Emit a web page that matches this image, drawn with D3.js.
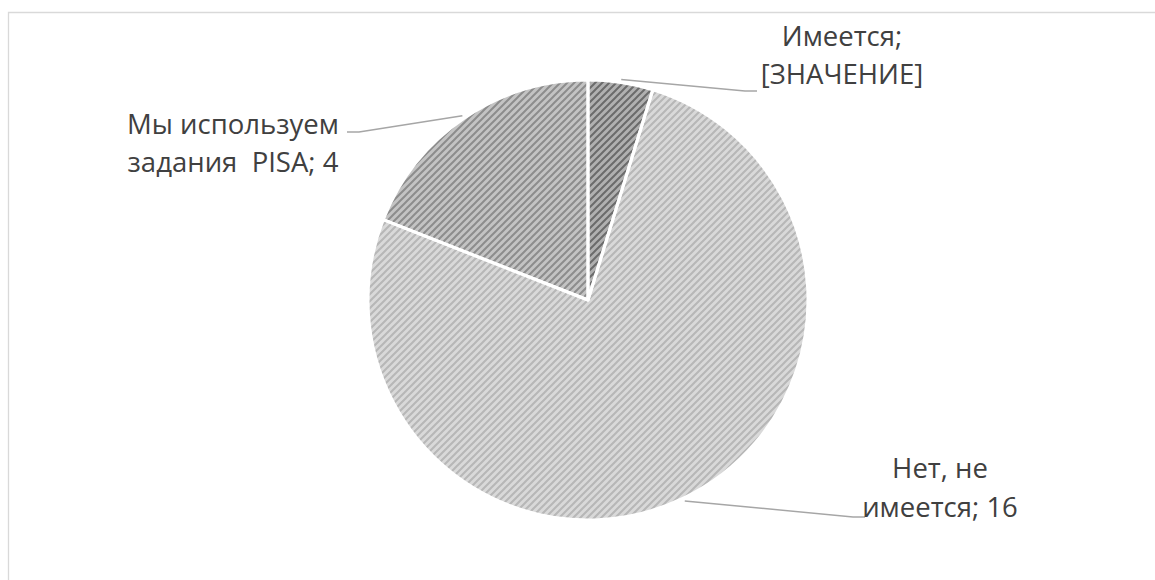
<!DOCTYPE html>
<html>
<head>
<meta charset="utf-8">
<script src="https://cdn.jsdelivr.net/npm/d3@7"></script>
<style>
  body { margin: 0; background: #ffffff; }
  svg { display: block; }
</style>
</head>
<body>
<svg id="chart" width="1155" height="580"></svg>
<script>
// Survey answers and their counts
const categories = ["Имеется", "Нет, не\nимеется", "Мы используем\nзадания  PISA"];
const values = [1, 16, 4];
const valueTexts = ["[ЗНАЧЕНИЕ]", String(values[1]), String(values[2])];

// Slice styling: background tone and stripe tone
const sliceBase = ["#c4c4c4", "#f1f1f1", "#d9d9d9"];
const sliceStripe = ["#777777", "#cbcbcb", "#9c9c9c"];

const W = 1155, H = 580;
const cx = 588, cy = 300, R = 220;
const P = 7; // hatch period

const svg = d3.select("#chart");
const defs = svg.append("defs");

// Diagonal hatch patterns, one per slice
sliceBase.forEach((b, i) => {
  const p = defs.append("pattern")
    .attr("id", "hatch" + i)
    .attr("patternUnits", "userSpaceOnUse")
    .attr("width", P).attr("height", P);
  p.append("rect").attr("width", P).attr("height", P).attr("fill", b);
  p.append("path")
    .attr("d", `M-1,${P + 1} L${P + 1},-1 M-${P / 2 + 1},${P / 2 + 1} L${P / 2 + 1},-${P / 2 + 1} M${P / 2 - 1},${P * 1.5 + 1} L${P * 1.5 + 1},${P / 2 - 1}`)
    .attr("stroke", sliceStripe[i])
    .attr("stroke-width", 2)
    .attr("fill", "none");
});

// Soft rim shading across the whole pie
const rg = defs.append("radialGradient").attr("id", "rim")
  .attr("gradientUnits", "userSpaceOnUse")
  .attr("cx", cx).attr("cy", cy).attr("r", R);
rg.append("stop").attr("offset", "0%").attr("stop-color", "#ffffff").attr("stop-opacity", 0.2);
rg.append("stop").attr("offset", "82%").attr("stop-color", "#ffffff").attr("stop-opacity", 0.0);
rg.append("stop").attr("offset", "100%").attr("stop-color", "#000000").attr("stop-opacity", 0.10);

// Chart frame (top and left edges visible)
svg.append("path")
  .attr("d", `M8.5,${H} L8.5,12.5 L${W},12.5`)
  .attr("fill", "none")
  .attr("stroke", "#d9d9d9")
  .attr("stroke-width", 1.3);

const pie = d3.pie().sort(null).value(d => d);
const arcs = pie(values);
const arc = d3.arc().innerRadius(0).outerRadius(R);

const g = svg.append("g").attr("transform", `translate(${cx},${cy})`);

g.selectAll("path.slice")
  .data(arcs)
  .join("path")
  .attr("class", "slice")
  .attr("d", arc)
  .attr("fill", (d, i) => `url(#hatch${i})`);

// Rim shading, gradient in page coordinates
svg.append("g").selectAll("path")
  .data(arcs)
  .join("path")
  .attr("d", arc)
  .attr("transform", `translate(${cx},${cy})`)
  .attr("fill", "url(#rim)");

// White separators between slices
svg.append("g").attr("transform", `translate(${cx},${cy})`)
  .selectAll("path")
  .data(arcs)
  .join("path")
  .attr("d", arc)
  .attr("fill", "none")
  .attr("stroke", "#ffffff")
  .attr("stroke-width", 3)
  .attr("stroke-linejoin", "round");
// keep the outer rim clean
svg.append("circle")
  .attr("cx", cx).attr("cy", cy).attr("r", R + 1.5)
  .attr("fill", "none").attr("stroke", "#ffffff").attr("stroke-width", 3);

// Label placement: text block centre x, first baseline, line height, leader end point
const labelLayout = [
  { x: 842, y: 46, lh: 38, end: [757, 91] },
  { x: 940, y: 478, lh: 39, end: [865, 517] },
  { x: 233, y: 134, lh: 38, end: [347, 132] }
];

const labelText = (cat, v) => cat.includes("\n") ? `${cat}; ${v}` : `${cat};\n${v}`;

const leaderArc = d3.arc().innerRadius(R + 3).outerRadius(R + 3);

arcs.forEach((a, i) => {
  const L = labelLayout[i];
  const [sx, sy] = leaderArc.centroid(a);
  const start = [cx + sx, cy + sy];
  const dir = L.end[0] > start[0] ? 1 : -1;
  const knee = [L.end[0] - dir * 12, L.end[1]];
  svg.append("path")
    .attr("d", d3.line()([start, knee, L.end]))
    .attr("fill", "none")
    .attr("stroke", "#a6a6a6")
    .attr("stroke-width", 1.5);

  const lines = labelText(categories[i], valueTexts[i]).split("\n");
  const t = svg.append("text")
    .attr("x", L.x).attr("y", L.y)
    .attr("text-anchor", "middle")
    .attr("font-family", "'Open Sans', 'Noto Sans', sans-serif")
    .attr("font-size", 27.5)
    .attr("fill", "#404040")
    .style("white-space", "pre");
  lines.forEach((ln, k) => {
    t.append("tspan").attr("x", L.x).attr("y", L.y + k * L.lh).text(ln);
  });
});
</script>
</body>
</html>
